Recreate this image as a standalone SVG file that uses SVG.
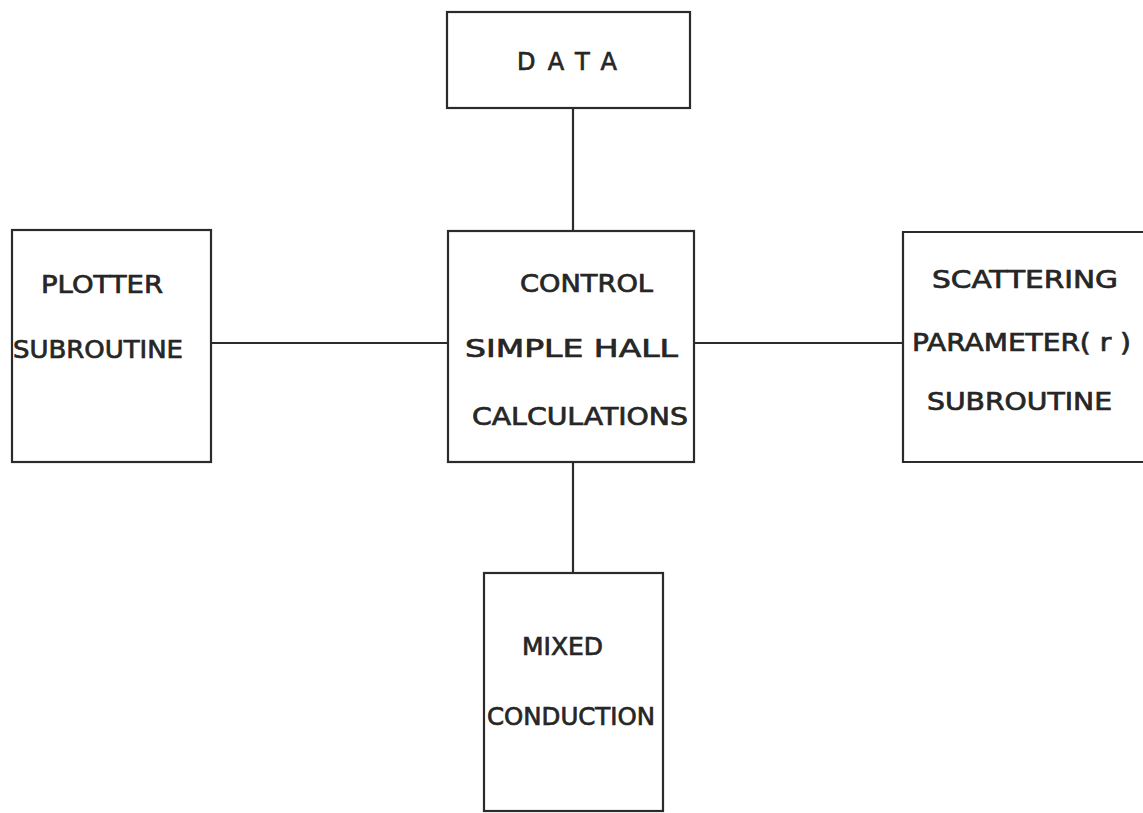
<svg xmlns="http://www.w3.org/2000/svg" width="1143" height="813" viewBox="0 0 1143 813">
  <style>
    .box { fill: none; stroke: #2b2b2b; stroke-width: 2.2; }
    .wire { fill: none; stroke: #2b2b2b; stroke-width: 2.2; }
    .lbl { font-family: "DejaVu Sans", "Liberation Sans", sans-serif; font-size: 24px; fill: #262626; stroke: #262626; stroke-width: 0.7; }
  </style>
  <rect x="0" y="0" width="1143" height="813" fill="#ffffff"/>

  <!-- connectors -->
  <g id="connectors">
    <line class="wire" x1="573" y1="108" x2="573" y2="231"/>
    <line class="wire" x1="211" y1="343" x2="448" y2="343"/>
    <line class="wire" x1="694" y1="343" x2="903" y2="343"/>
    <line class="wire" x1="573" y1="462" x2="573" y2="573"/>
  </g>

  <g id="data">
    <rect class="box" x="447" y="12" width="243" height="96"/>
    <text class="lbl" x="517" y="70" textLength="100" lengthAdjust="spacing">DATA</text>
  </g>

  <g id="plotter">
    <rect class="box" x="12" y="230" width="199" height="232"/>
    <text class="lbl" x="41" y="293" textLength="122" lengthAdjust="spacingAndGlyphs">PLOTTER</text>
    <text class="lbl" x="13" y="358" textLength="170" lengthAdjust="spacingAndGlyphs">SUBROUTINE</text>
  </g>

  <g id="control">
    <rect class="box" x="448" y="231" width="246" height="231"/>
    <text class="lbl" x="520" y="292" textLength="133" lengthAdjust="spacingAndGlyphs">CONTROL</text>
    <text class="lbl" x="465" y="357" textLength="213" lengthAdjust="spacingAndGlyphs">SIMPLE  HALL</text>
    <text class="lbl" x="472" y="425" textLength="216" lengthAdjust="spacingAndGlyphs">CALCULATIONS</text>
  </g>

  <g id="scattering">
    <path class="box" d="M1143 232 H903 V462 H1143"/>
    <text class="lbl" x="932" y="288" textLength="186" lengthAdjust="spacingAndGlyphs">SCATTERING</text>
    <text class="lbl" x="912" y="351" textLength="219" lengthAdjust="spacingAndGlyphs">PARAMETER( r )</text>
    <text class="lbl" x="927" y="410" textLength="185" lengthAdjust="spacingAndGlyphs">SUBROUTINE</text>
  </g>

  <g id="mixed">
    <rect class="box" x="484" y="573" width="179" height="238"/>
    <text class="lbl" x="522" y="655" textLength="81" lengthAdjust="spacingAndGlyphs">MIXED</text>
    <text class="lbl" x="487" y="725" textLength="168" lengthAdjust="spacingAndGlyphs">CONDUCTION</text>
  </g>
</svg>
